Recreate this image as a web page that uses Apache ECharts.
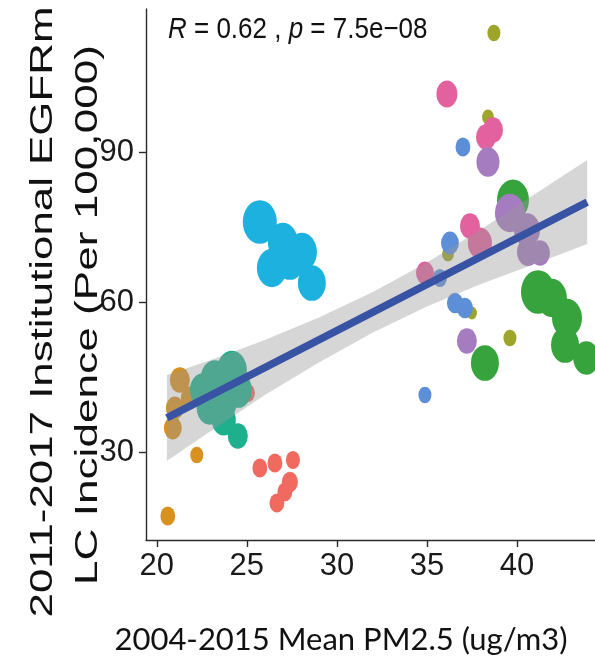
<!DOCTYPE html>
<html>
<head>
<meta charset="utf-8">
<script src="https://cdn.jsdelivr.net/npm/echarts@6/dist/echarts.min.js"></script>
<style>
  html, body { margin: 0; padding: 0; background: #ffffff; }
  #chart { width: 595px; height: 670px; }
</style>
</head>
<body>
<div id="chart"></div>
<script>
// Mean PM2.5 exposure vs. institutional EGFRm lung-cancer incidence,
// one colour per region, bubble area from the weight column.

const xTicks = [20, 25, 30, 35, 40];
const yTicks = [30, 60, 90];

// rows: [mean PM2.5, incidence per 100,000, weight]
const olivePts = [[38.72, 113.8, 1.7], [38.39, 97.0, 1.4], [36.17, 69.6, 1.4], [37.5, 57.8, 1.0], [39.61, 52.8, 1.7]];
const greenPts = [[39.78, 80.4, 10.2], [38.22, 47.8, 7.8], [41.17, 62.0, 11.6], [41.94, 60.8, 9.0], [42.78, 56.8, 9.0], [42.67, 51.4, 7.8], [43.85, 48.8, 6.8]];
const salmonPts = [[25.72, 26.8, 2.2], [26.56, 27.8, 2.2], [27.56, 28.4, 2.0], [27.39, 24.0, 2.6], [27.11, 22.0, 2.2], [26.67, 19.8, 2.2], [25.06, 41.8, 2.0]];
const goldPts = [[21.28, 44.4, 4.0], [21.83, 40.8, 3.2], [21.0, 38.8, 3.2], [20.89, 34.8, 3.2], [22.22, 29.4, 1.7], [20.61, 17.2, 2.2]];
const tealPts = [[22.56, 42.4, 6.8], [23.22, 44.8, 7.8], [24.17, 46.4, 9.0], [24.5, 42.4, 7.8], [23.61, 40.0, 9.0], [23.72, 36.4, 5.8], [22.94, 38.8, 6.8], [24.5, 33.2, 4.0]];
const cyanPts = [[25.72, 76.0, 11.6], [27.0, 72.0, 9.0], [28.06, 70.0, 9.0], [26.39, 66.8, 9.0], [27.39, 68.0, 7.8], [28.61, 63.8, 7.8]];
const bluePts = [[37.0, 91.0, 2.2], [36.28, 71.8, 3.2], [35.72, 64.8, 2.0], [36.56, 59.8, 2.6], [37.11, 58.8, 2.6], [34.89, 41.4, 1.7]];
const pinkPts = [[36.11, 101.6, 4.4], [38.67, 94.4, 4.0], [38.28, 93.0, 4.0], [37.39, 75.2, 4.0], [37.94, 71.8, 5.8], [34.89, 65.8, 3.2]];
const purplePts = [[38.39, 88.0, 5.3], [39.61, 77.8, 9.0], [40.56, 74.4, 6.8], [40.61, 70.0, 4.8], [41.28, 69.8, 4.0], [37.22, 52.2, 4.0]];

// linear fit and its 95% confidence band
const fitLine = [[20.56, 36.83], [43.9, 79.96]];
const bandX    = [20.56, 23, 26, 29, 32, 35, 38, 41, 43.9];
const bandLow  = [28.2, 34.2, 41.4, 47.9, 53.9, 59.1, 63.6, 67.6, 71.6];
const bandHigh = [45.4, 48.4, 52.4, 56.9, 62.0, 67.9, 74.5, 81.6, 88.4];

const statText = '{i|R} = 0.62 , {i|p} = 7.5e\u221208';
const xTitle = '2004-2015 Mean PM2.5 (ug/m3)';
const yTitle1 = '2011-2017 Institutional EGFRm';
const yTitle2 = 'LC Incidence (Per 100,000)';

const SANS = '"Liberation Sans", Arial, Helvetica, sans-serif';
const ELLIPSE_PATH = 'path://M0,1 A1,1 0 1,1 2,1 A1,1 0 1,1 0,1 Z';
const V_STRETCH = 1.28;

function bubbleSize(row) {
  const w = 10 * Math.sqrt(row[2]);
  return [w, w * V_STRETCH];
}

function pointSeries(name, data, color) {
  return {
    name: name,
    type: 'scatter',
    data: data,
    symbol: ELLIPSE_PATH,
    symbolSize: bubbleSize,
    itemStyle: { color: color, opacity: 1 },
    z: 2,
    silent: true
  };
}

const chart = echarts.init(document.getElementById('chart'), null, { renderer: 'canvas' });

chart.setOption({
  backgroundColor: '#ffffff',
  animation: false,
  grid: { left: 146, right: -12, top: 9, bottom: 130, outerBoundsMode: 'none', containLabel: false },
  xAxis: {
    type: 'value',
    min: 19.4,
    max: 45,
    axisLine: { show: true, lineStyle: { color: '#2b2b2b', width: 1.4 } },
    axisTick: { show: true, length: 7, customValues: xTicks, lineStyle: { color: '#2b2b2b', width: 1.4 } },
    axisLabel: { customValues: xTicks, margin: 11, color: '#1a1a1a', fontSize: 31, fontFamily: SANS },
    splitLine: { show: false }
  },
  yAxis: {
    type: 'value',
    min: 12.4,
    max: 118.6,
    axisLine: { show: true, lineStyle: { color: '#2b2b2b', width: 1.4 } },
    axisTick: { show: true, length: 7, customValues: yTicks, lineStyle: { color: '#2b2b2b', width: 1.4 } },
    axisLabel: { customValues: yTicks, margin: 12, color: '#1a1a1a', fontSize: 31, fontFamily: SANS },
    splitLine: { show: false }
  },
  series: [
    pointSeries('olive', olivePts, '#9da52b'),
    pointSeries('green', greenPts, '#36a33c'),
    pointSeries('salmon', salmonPts, '#f06a60'),
    pointSeries('gold', goldPts, '#d8901f'),
    pointSeries('teal', tealPts, '#1eaf8d'),
    pointSeries('cyan', cyanPts, '#1db1df'),
    pointSeries('blue', bluePts, '#5c8fd7'),
    pointSeries('pink', pinkPts, '#e4619f'),
    pointSeries('purple', purplePts, '#a67cc0'),
    {
      type: 'custom',
      name: 'band',
      silent: true,
      z: 5,
      data: [0],
      renderItem: function (params, api) {
        const pts = [];
        for (let i = 0; i < bandX.length; i++) pts.push(api.coord([bandX[i], bandHigh[i]]));
        for (let i = bandX.length - 1; i >= 0; i--) pts.push(api.coord([bandX[i], bandLow[i]]));
        return {
          type: 'polygon',
          shape: { points: pts },
          style: { fill: 'rgba(153,153,153,0.4)' }
        };
      }
    },
    {
      type: 'line',
      name: 'fit',
      data: fitLine,
      showSymbol: false,
      silent: true,
      z: 6,
      lineStyle: { color: '#3953a4', width: 7.5 }
    }
  ],
  graphic: [
    {
      type: 'text',
      x: 168, y: 30,
      scaleY: 1.15,
      style: {
        text: statText,
        fill: '#111111',
        font: '26px ' + SANS,
        verticalAlign: 'middle',
        rich: { i: { fontStyle: 'italic', fontSize: 26, fontFamily: SANS, fill: '#111111' } }
      }
    },
    {
      type: 'text',
      x: 341, y: 640,
      style: {
        text: xTitle, fill: '#111111',
        font: '31px Lato, "Open Sans", sans-serif',
        align: 'center', verticalAlign: 'middle'
      }
    },
    {
      type: 'text',
      x: 43, y: 312, rotation: Math.PI / 2,
      scaleX: 1.37,
      style: { text: yTitle1, fill: '#111111', font: '32px ' + SANS, align: 'center', verticalAlign: 'middle' }
    },
    {
      type: 'text',
      x: 88, y: 315, rotation: Math.PI / 2,
      scaleX: 1.38,
      style: { text: yTitle2, fill: '#111111', font: '32px ' + SANS, align: 'center', verticalAlign: 'middle' }
    }
  ]
});
</script>
</body>
</html>
